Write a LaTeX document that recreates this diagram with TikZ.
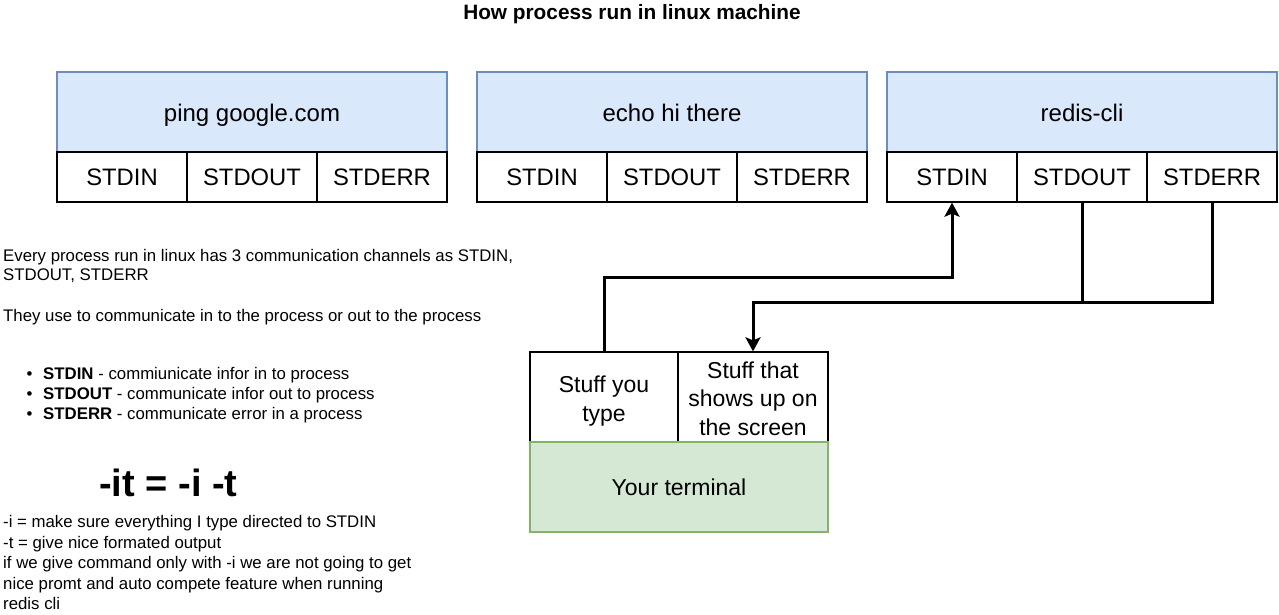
\documentclass[tikz,border=0pt]{standalone}
\usepackage{fontspec}
\setmainfont{Liberation Sans}
\usetikzlibrary{arrows.meta,calc}
\definecolor{bluefill}{HTML}{DAE8FC}
\definecolor{bluestroke}{HTML}{6C8EBF}
\definecolor{greenfill}{HTML}{D5E8D4}
\definecolor{greenstroke}{HTML}{82B366}
\tikzset{
  hdr/.style={draw=bluestroke,fill=bluefill,line width=1.3pt,minimum width=390pt,minimum height=80pt,inner sep=0pt,text height=20pt,text depth=2pt,font=\fontsize{24}{28}\selectfont},
  cell/.style={draw=black,fill=white,line width=1.3pt,minimum width=130pt,minimum height=50pt,inner sep=0pt,text height=19.5pt,text depth=2pt,font=\fontsize{23.8}{28}\selectfont},
  tcell/.style={draw=black,fill=white,line width=1.3pt,minimum height=90pt,inner sep=0pt},
  tlabel/.style={inner sep=0pt,align=center,font=\fontsize{23}{28.7}\selectfont},
  term/.style={draw=greenstroke,fill=greenfill,line width=1.3pt,minimum width=298pt,minimum height=90pt,inner sep=0pt,font=\fontsize{23}{28}\selectfont},
  txt/.style={anchor=base west,inner sep=0pt,font=\fontsize{16.8}{20}\selectfont},
  wire/.style={line width=3pt},
  arr/.style={line width=3pt,-{Stealth[length=14pt,width=15pt,inset=3pt]}},
}
\begin{document}
\begin{tikzpicture}[x=1pt,y=-1pt]
\useasboundingbox[fill=white] (0,0) rectangle (1279,614);
% title
\node[anchor=base,inner sep=0pt,font=\bfseries\fontsize{20.8}{24}\selectfont] (title) at (632,19.5) {How process run in linux machine};
% process 1
\node[hdr] (h1) at (252,112) {ping google.com};
\node[cell] (a1) at (122,177) {STDIN};
\node[cell] (b1) at (252,177) {STDOUT};
\node[cell] (c1) at (382,177) {STDERR};
% process 2
\node[hdr] (h2) at (672,112) {echo hi there};
\node[cell] (a2) at (542,177) {STDIN};
\node[cell] (b2) at (672,177) {STDOUT};
\node[cell] (c2) at (802,177) {STDERR};
% process 3
\node[hdr] (h3) at (1082,112) {redis-cli};
\node[cell] (a3) at (952,177) {STDIN};
\node[cell] (b3) at (1082,177) {STDOUT};
\node[cell] (c3) at (1212,177) {STDERR};
% terminal
\node[tcell,minimum width=148pt] (t1) at (604,397) {};
\node[tlabel] (t1l) at (604,401) {Stuff you\\type};
\node[tcell,minimum width=150pt] (t2) at (753,397) {};
\node[tlabel] (t2l) at (753,398.5) {Stuff that\\shows up on\\the screen};
\node[term] (term) at (679,487) {Your terminal};
% connectors
\coordinate (jn) at (1082,302);
\draw[arr] (t1.north) -- ++(0,-74) -| (a3.south);
\draw[arr] (b3.south) -- (jn) -| (t2.north);
\draw[wire] (c3.south) |- (jn);
% left texts
\node[txt] (l1) at (3,261) {Every process run in linux has 3 communication channels as STDIN,};
\node[txt] (l2) at (3,280.5) {STDOUT, STDERR};
\node[txt] (l3) at (3,321) {They use to communicate in to the process or out to the process};
\node[txt] (bu1) at (26.5,379) {\textbullet};
\node[txt] (bl1) at (43,379) {\textbf{STDIN} - commiunicate infor in to process};
\node[txt] (bu2) at (26.5,399.5) {\textbullet};
\node[txt] (bl2) at (43,399.5) {\textbf{STDOUT} - communicate infor out to process};
\node[txt] (bu3) at (26.5,419.5) {\textbullet};
\node[txt] (bl3) at (43,419.5) {\textbf{STDERR} - communicate error in a process};
\node[anchor=base west,inner sep=0pt,font=\bfseries\fontsize{38}{44}\selectfont] (it) at (99,496) {-it = -i -t};
\node[txt] (m1) at (3,527.5) {-i = make sure everything I type directed to STDIN};
\node[txt] (m2) at (3,548.5) {-t = give nice formated output};
\node[txt] (m3) at (3,568.5) {if we give command only with -i we are not going to get};
\node[txt] (m4) at (3,589) {nice promt and auto compete feature when running};
\node[txt] (m5) at (3,609) {redis cli};
\end{tikzpicture}
\end{document}
